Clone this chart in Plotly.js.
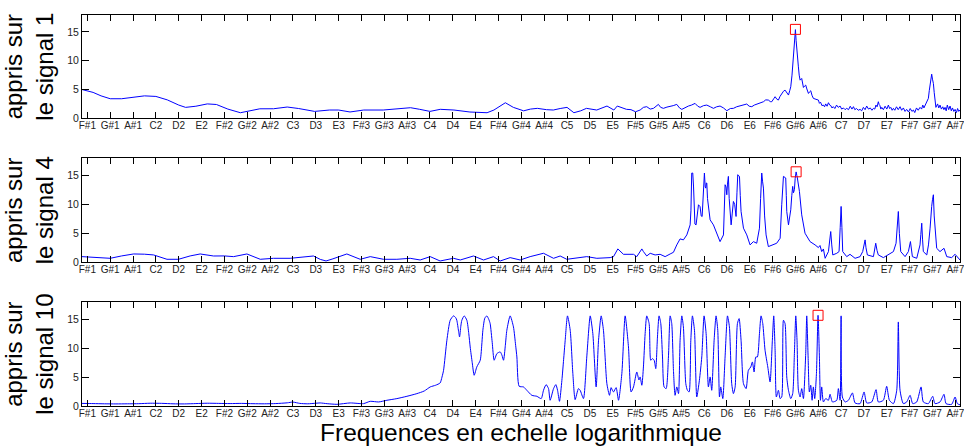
<!DOCTYPE html>
<html>
<head>
<meta charset="utf-8">
<script src="https://cdn.plot.ly/plotly-3.0.1.min.js"></script>
<style>html,body{margin:0;padding:0;background:#fff;}#chart{width:964px;height:447px;}</style>
</head>
<body>
<div id="chart"></div>
<script>
// Tick positions (MIDI note numbers, log-frequency scale) and their labels
const tickNotes = [30,32,34,36,38,40,42,44,46,48,50,52,54,56,58,60,62,64,66,68,70,72,74,76,78,80,82,84,86,88,90,92,94,96,98,100,102,104,106];
const tickLabels = ["F#1","G#1","A#1","C2","D2","E2","F#2","G#2","A#2","C3","D3","E3","F#3","G#3","A#3","C4","D4","E4","F#4","G#4","A#4","C5","D5","E5","F#5","G#5","A#5","C6","D6","E6","F#6","G#6","A#6","C7","D7","E7","F#7","G#7","A#7"];

// Signal 1
const note1 = [29.53,30.5,31.2,32.0,33.0,34.0,35.0,36.0,37.0,38.0,38.6,39.5,40.5,41.3,42.3,43.4,44.2,45.1,46.3,47.5,48.5,49.9,51.2,52.0,53.0,54.2,55.9,57.0,58.3,59.1,60.0,60.9,62.1,63.5,65.0,65.6,66.1,66.6,67.3,68.2,68.8,69.4,70.2,70.8,71.4,72.0,72.6,73.2,73.7,74.2,74.6,75.5,76.1,76.4,76.8,77.2,77.6,78.0,
78.40,78.69,78.98,79.28,79.57,79.80,80.00,80.20,80.44,80.75,81.03,81.30,81.61,81.85,82.05,82.35,82.63,82.90,83.21,83.45,83.65,83.95,84.24,84.55,84.82,85.10,85.40,85.70,85.99,86.30,86.57,86.85,87.15,87.45,87.74,87.95,88.18,88.40,88.61,88.90,89.20,89.40,89.63,89.80,89.93,90.10,90.22,90.38,90.51,90.65,90.80,90.95,91.09,91.25,91.39,91.50,91.59,91.70,91.76,91.85,91.91,92.00,92.06,92.11,92.20,92.26,92.33,92.41,92.55,92.62,92.70,92.80,92.90,93.00,93.14,93.24,93.34,93.45,93.57,93.80,
94.01,94.10,94.20,94.32,94.45,94.55,94.65,94.77,94.89,95.00,95.10,95.20,95.32,95.45,95.60,95.75,95.91,96.05,96.20,96.35,96.49,96.65,96.80,96.95,97.08,97.20,97.35,97.50,97.66,97.80,97.95,98.10,98.24,98.40,98.55,98.70,98.83,98.95,99.05,99.15,99.26,99.33,99.40,99.48,99.56,99.70,99.85,100.00,100.14,100.25,100.35,100.47,100.58,100.70,100.85,101.00,101.16,101.30,101.45,101.60,101.74,101.90,102.05,102.20,102.33,102.45,102.60,102.75,102.91,103.05,103.15,103.25,103.35,103.50,103.64,103.72,103.79,103.86,103.93,104.00,104.08,104.15,104.22,104.30,104.45,104.55,104.66,104.78,104.90,105.00,105.10,105.20,105.30,105.42,105.54,105.65,105.75,105.87,105.98,106.10,106.20,106.30,106.41];
const val1 = [5.0,4.5,3.9,3.4,3.4,3.7,3.9,3.8,3.2,2.3,1.9,2.1,2.5,2.4,1.6,0.97,1.3,1.65,1.66,1.96,1.7,1.2,1.44,1.44,1.1,1.44,1.44,1.6,1.84,1.56,1.2,1.56,1.44,1.09,0.97,1.44,2.0,2.7,1.9,1.3,1.6,1.73,1.5,1.44,1.7,1.9,0.97,1.3,1.73,1.5,1.44,2.13,1.44,2.13,1.8,1.56,1.5,1.14,
1.44,1.9,2.02,1.6,1.73,2.1,2.42,1.9,1.73,1.95,2.02,2.2,2.42,1.8,1.55,1.9,2.13,2.3,2.59,2.1,1.9,2.2,2.3,2.0,1.73,2.0,2.13,1.8,1.32,1.7,1.73,2.0,2.13,2.3,2.48,2.1,2.02,2.3,2.42,2.7,2.88,3.2,3.17,2.9,2.88,3.4,3.75,3.3,3.17,3.8,4.32,4.7,4.9,4.4,4.04,4.8,5.48,7.5,8.94,11.0,12.41,15.41,13.5,11.83,9.5,8.94,7.5,6.63,6.92,6.0,5.36,5.6,5.77,5.1,4.32,4.6,4.79,4.0,3.46,3.3,
3.17,2.6,2.8,2.2,2.3,2.0,2.5,2.1,2.71,2.3,2.2,1.8,2.02,1.7,2.3,1.9,2.13,1.6,1.8,1.5,1.73,1.5,2.1,1.6,2.02,1.5,1.7,1.4,1.55,1.3,1.9,1.5,2.13,1.6,1.8,1.4,1.73,1.6,2.3,2.0,2.88,2.4,2.2,1.6,1.9,1.5,2.1,1.6,2.3,1.7,1.9,1.4,1.73,1.4,2.0,1.5,2.02,1.4,1.8,1.2,1.55,1.1,1.7,1.2,1.44,1.0,1.8,1.4,1.9,1.6,2.3,1.8,2.3,2.7,3.46,4.8,6.06,7.2,7.67,6.8,6.06,4.5,2.88,1.9,2.5,1.8,2.3,1.6,2.0,1.5,1.9,1.3,2.3,1.5,2.13,1.3,1.8,1.2,1.55,1.0,1.7,1.2,1.44];

// Signal 4
const note4 = [29.53,30.8,32.0,33.0,34.05,35.0,35.8,36.97,37.98,39.0,39.88,41.05,42.0,42.8,43.97,45.14,46.3,47.76,49.0,49.8,50.4,50.9,51.5,52.72,53.89,54.77,55.93,57.1,58.27,59.14,60.02,60.89,62.06,62.65,63.81,64.69,65.56,66.15,67.02,67.9,68.77,69.94,70.82,71.4,71.98,72.86,73.73,74.61,75.78,76.07,76.45,76.94,77.82,78.11,78.4,78.55,78.69,78.98,79.28,79.71,80.15,80.59,81.03,81.32,81.61,81.9,82.19,82.49,82.78,82.85,82.92,83.01,83.08,83.13,83.2,83.3,83.4,83.51,83.65,83.75,83.83,83.92,84.03,84.1,84.15,84.2,84.24,84.3,84.38,84.53,84.82,85.11,85.4,85.7,85.78,85.84,85.92,85.99,86.05,86.13,86.2,86.28,86.37,86.47,86.57,86.68,86.8,86.88,86.95,87.02,87.1,87.17,87.24,87.45,87.74,88.03,88.32,88.61,88.85,88.95,89.05,89.12,89.2,89.3,89.43,89.63,90.07,90.36,90.66,90.72,90.8,90.95,91.05,91.15,91.2,91.24,91.39,91.5,91.59,91.68,91.76,91.83,91.91,91.98,92.06,92.12,92.17,92.35,92.55,92.84,93.28,93.72,94.01,94.15,94.3,94.45,94.6,94.89,95.0,95.09,95.18,95.27,95.62,95.82,95.92,96.0,96.07,96.14,96.49,96.78,97.22,97.66,97.89,98.1,98.18,98.3,98.83,99.03,99.15,99.26,99.7,100.14,100.35,100.58,100.81,100.92,101.01,101.1,101.22,101.6,101.89,102.07,102.15,102.24,102.62,102.91,102.98,103.06,103.13,103.2,103.5,103.65,103.79,103.86,103.93,104.0,104.08,104.15,104.22,104.3,104.37,104.66,104.85,105.01,105.25,105.68,105.98,106.27,106.41];
const val4 = [0.98,0.85,0.69,1.1,1.44,1.4,1.27,0.52,0.52,1.1,1.44,1.09,1.1,0.98,1.44,0.52,0.69,0.69,0.9,1.09,0.5,0.23,0.6,1.44,0.52,0.98,0.52,0.52,0.69,0.4,0.98,0.23,0.69,0.4,1.09,0.4,0.98,0.23,0.81,0.4,0.98,1.56,0.69,1.09,0.52,0.69,0.98,0.69,0.81,0.98,2.31,1.38,1.38,0.98,1.9,2.31,1.85,1.09,1.56,1.27,1.38,0.98,1.44,1.73,3.0,4.04,3.87,4.73,6.46,9.0,15.4,15.41,13.0,9.0,6.6,6.46,8.5,9.93,9.6,8.0,7.9,12.0,15.41,13.0,12.8,13.7,13.68,11.0,9.93,7.33,6.46,5.02,3.57,4.73,9.0,13.39,13.0,11.66,13.5,14.83,11.0,8.77,6.46,8.5,10.5,10.0,7.91,12.0,15.12,14.9,14.83,11.5,8.77,5.89,4.73,3.0,3.57,3.29,5.89,11.0,15.41,14.0,12.81,8.0,4.73,2.71,3.0,3.29,4.15,7.0,9.93,14.83,14.6,14.55,11.5,8.77,6.46,8.0,9.06,11.5,13.1,12.0,12.53,14.5,15.6,15.0,14.55,12.24,8.19,5.02,3.57,3.0,2.54,2.9,1.85,2.3,0.69,1.85,3.5,5.31,3.0,1.27,1.56,1.85,6.0,9.64,6.0,1.85,0.98,1.38,0.69,0.98,1.85,3.87,2.5,1.27,0.98,3.29,2.0,1.27,0.81,1.27,1.5,1.85,3.29,6.0,8.77,5.0,1.85,0.98,1.85,3.58,2.0,0.98,0.69,3.0,4.8,6.75,4.0,1.85,1.27,3.0,5.89,9.0,9.64,10.8,11.66,8.0,6.46,4.0,2.42,1.85,2.2,2.42,0.98,0.81,1.38,0.69,0.4];

// Signal 10
const note10 = [29.53,30.5,31.5,32.5,33.5,34.5,35.5,36.5,37.5,38.5,39.5,40.5,41.5,42.5,43.5,44.5,45.5,46.5,47.5,48.0,48.6,49.3,50.0,50.39,51.0,51.85,53.02,54.18,54.77,55.5,56.23,57.1,57.98,58.85,59.5,60.02,60.5,60.89,61.05,61.19,61.48,61.77,62.06,62.25,62.35,62.5,62.59,62.7,62.79,63.0,63.23,63.4,63.52,63.7,63.87,64.1,64.4,64.55,64.63,64.8,64.98,65.15,65.27,65.45,65.62,65.86,66.15,66.3,66.44,66.6,66.73,67.02,67.31,67.5,67.61,67.81,68.19,68.48,68.92,69.36,69.74,69.94,70.17,70.38,70.52,70.82,71.02,71.17,71.34,71.55,71.7,71.84,72.04,72.28,72.51,72.71,73.0,73.15,73.44,73.73,74.03,74.26,74.55,74.76,74.99,75.19,75.49,75.72,75.86,76.0,76.07,76.3,76.51,76.8,77.09,77.38,77.61,77.82,78.11,78.3,78.4,78.55,78.69,78.84,78.98,79.19,79.33,79.48,79.63,79.77,79.92,80.06,80.21,80.36,80.5,80.68,80.88,81.03,81.17,81.32,81.46,81.61,81.76,81.9,82.05,82.19,82.4,82.54,82.69,82.84,82.98,83.16,83.36,83.59,83.8,84.0,84.18,84.38,84.53,84.67,84.88,85.05,85.2,85.35,85.46,85.64,85.84,86.05,86.22,86.42,86.57,86.72,86.92,87.07,87.24,87.45,87.68,87.88,88.09,88.23,88.38,88.53,88.67,88.85,88.99,89.14,89.34,89.58,89.78,89.98,90.1,90.22,90.33,90.51,90.66,90.8,90.95,91.09,91.24,91.39,91.59,91.76,91.91,92.03,92.14,92.26,92.41,92.55,92.7,92.9,92.99,93.11,93.22,93.34,93.46,93.57,93.69,93.84,93.98,94.1,94.19,94.3,94.45,94.65,94.89,95.03,95.24,95.62,95.76,95.91,96.0,96.11,96.35,96.64,96.99,97.22,97.66,98.01,98.24,98.68,99.06,99.26,99.7,99.99,100.23,100.58,100.87,101.01,101.16,101.45,101.74,102.04,102.27,102.62,103.0,103.2,103.64,104.02,104.22,104.66,105.01,105.19,105.68,105.98,106.18,106.41];
const val10 = [0.45,0.42,0.38,0.36,0.38,0.4,0.48,0.46,0.38,0.36,0.42,0.48,0.45,0.42,0.45,0.4,0.38,0.42,0.55,0.68,0.45,0.38,0.48,0.53,0.4,0.29,0.53,0.41,0.81,0.7,0.99,1.28,1.68,2.14,2.6,3.3,3.6,3.99,5.0,6.18,11.38,14.84,15.6,15.3,14.84,13.0,11.96,13.8,14.84,15.6,14.84,12.5,10.22,7.5,5.32,6.76,7.92,11.0,13.11,15.2,15.6,15.0,14.27,11.0,7.92,9.07,9.36,8.8,7.92,10.5,13.11,15.6,13.69,10.5,8.49,3.41,3.3,2.72,1.85,1.68,1.28,2.72,3.7,3.01,0.99,3.01,3.7,2.72,0.81,4.45,8.0,11.38,15.6,13.11,5.61,1.1,3.01,2.72,1.28,8.49,15.6,12.53,3.3,11.38,15.6,13.11,3.87,1.85,3.18,2.6,2.43,3.18,0.99,5.61,15.6,10.22,2.43,3.3,5.89,4.5,5.03,3.59,6.76,12.53,15.6,14.27,7.92,8.2,7.92,6.47,11.96,15.6,14.27,8.49,3.3,3.01,8.49,15.6,14.27,6.18,1.85,3.3,2.14,11.38,15.6,13.69,3.87,2.72,2.43,11.38,15.6,13.11,1.56,4.45,8.49,15.6,12.53,3.3,5.03,2.72,11.38,15.6,13.11,1.56,3.3,1.28,8.49,15.6,13.69,3.87,2.14,3.3,14.27,15.13,11.38,3.87,3.01,6.18,6.76,7.63,5.89,8.49,8.49,12.53,15.6,14.27,9.65,6.76,4.16,11.38,15.6,9.65,1.56,2.72,1.28,1.56,14.84,14.27,5.03,2.72,1.28,2.14,9.07,15.6,11.38,2.72,1.56,3.01,1.28,9.07,15.6,8.49,2.43,3.59,0.99,3.3,1.28,5.61,15.7,8.49,0.99,3.3,0.7,1.28,0.99,2.03,0.7,0.99,3.01,0.99,15.6,1.56,0.7,0.99,2.26,0.53,0.41,2.43,0.53,0.7,2.83,0.7,0.99,3.41,0.99,0.41,2.72,14.55,2.72,0.41,0.7,1.85,0.41,0.7,3.3,0.7,0.41,1.68,0.41,0.7,2.03,0.41,0.29,1.56,0.41,0.2];

// Maxima highlighted with red squares
const peakNote = [92.0, 92.06, 93.98];
const peakVal = [15.45, 15.62, 15.7];

const yTitles = ["appris sur<br>le signal 1", "appris sur<br>le signal 4", "appris sur<br>le signal 10"];
const xTitle = "Frequences en echelle logarithmique";

const series = [[note1, val1, 'linear'], [note4, val4, 'linear'], [note10, val10, 'spline']];
const traces = [];
series.forEach((s, i) => {
  const ax = i === 0 ? '' : String(i + 1);
  const line = {color: '#0000ff', width: 1, shape: s[2]};
  if (s[2] === 'spline') line.smoothing = 0.6;
  traces.push({x: s[0], y: s[1], type: 'scatter', mode: 'lines',
    line: line, xaxis: 'x' + ax, yaxis: 'y' + ax, hoverinfo: 'skip'});
  traces.push({x: [peakNote[i]], y: [peakVal[i]], type: 'scatter', mode: 'markers',
    marker: {symbol: 'square-open', size: 10, color: '#ff0000', line: {width: 1, color: '#ff0000'}},
    xaxis: 'x' + ax, yaxis: 'y' + ax});
});

const font = {family: 'Liberation Sans, Arial, sans-serif', color: '#000'};
function xa(anchor, withTitle) {
  const a = {range: [29.53, 106.41], tickvals: tickNotes, ticktext: tickLabels, ticks: 'inside', ticklen: 6,
    tickcolor: '#000', tickwidth: 1, showline: true, linecolor: '#000', linewidth: 1, mirror: 'ticks',
    showgrid: false, zeroline: false, anchor: anchor, ticklabeloverflow: 'allow', ticklabelstandoff: -2,
    tickfont: {size: 10, family: font.family, color: '#222'}};
  if (withTitle) a.title = {text: xTitle, font: {size: 24.5, family: font.family, color: '#000'}, standoff: 5};
  return a;
}
function ya(anchor, domain, title) {
  return {range: [0, 17.95], domain: domain, tickvals: [0, 5, 10, 15], ticks: 'inside', ticklen: 7,
    tickcolor: '#000', showline: true, linecolor: '#000', linewidth: 1, mirror: 'ticks', showgrid: false,
    zeroline: false, anchor: anchor, tickfont: {size: 10.5, family: font.family, color: '#222'},
    title: {text: title, font: {size: 24, family: font.family, color: '#000'}, standoff: 9}};
}

const layout = {
  width: 964, height: 447, showlegend: false,
  margin: {l: 82, r: 4, t: 15, b: 41},
  paper_bgcolor: '#fff', plot_bgcolor: '#fff', font: font,
  xaxis: xa('y', false), xaxis2: xa('y2', false), xaxis3: xa('y3', true),
  yaxis: ya('x', [0.7358, 1.0], yTitles[0]),
  yaxis2: ya('x2', [0.3675, 0.6335], yTitles[1]),
  yaxis3: ya('x3', [0.0, 0.2652], yTitles[2])
};

Plotly.newPlot('chart', traces, layout, {staticPlot: true, displayModeBar: false});
</script>
</body>
</html>
